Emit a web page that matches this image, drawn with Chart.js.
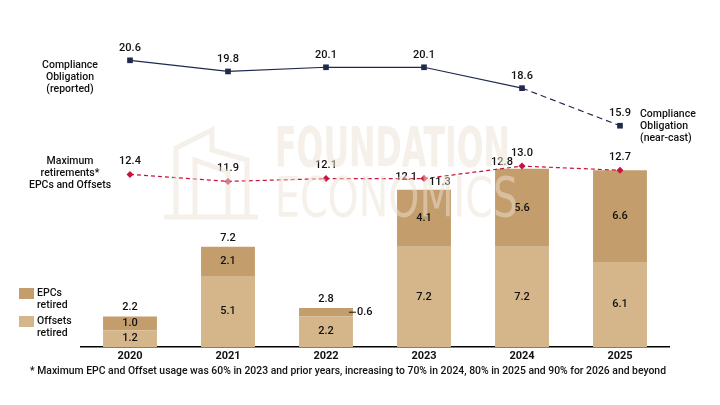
<!DOCTYPE html>
<html>
<head>
<meta charset="utf-8">
<script src="https://cdn.jsdelivr.net/npm/chart.js@4.4.1/dist/chart.umd.min.js"></script>
<style>
  html, body { margin: 0; padding: 0; background: #fff; }
  #wrap { position: relative; width: 720px; height: 405px; }
</style>
</head>
<body>
<div id="wrap"><canvas id="chart" width="720" height="405"></canvas></div>
<script>
var years = ['2020', '2021', '2022', '2023', '2024', '2025'];
var offsetsRetired = [1.2, 5.1, 2.2, 7.2, 7.2, 6.1];
var epcsRetired = [1.0, 2.1, 0.6, 4.1, 5.6, 6.6];
var barTotals = [2.2, 7.2, 2.8, 11.3, 12.8, 12.7];
var complianceObligation = [20.6, 19.8, 20.1, 20.1, 18.6, 15.9];
var maxRetirements = [12.4, 11.9, 12.1, 12.1, 13.0, 12.7];
var footnote = '* Maximum EPC and Offset usage was 60% in 2023 and prior years, increasing to 70% in 2024, 80% in 2025 and 90% for 2026 and beyond';

var FONT = 'Roboto, "DejaVu Sans", sans-serif';
var NAVY = '#1f2a4d';
var RED = '#c8143c';
var LIGHT = '#d4b68a';
var DARK = '#c49d6c';

function txt(ctx, s, x, y, align, weight, size) {
    ctx.font = (weight || '500') + ' ' + (size || 11) + 'px ' + FONT;
    ctx.textAlign = align || 'center';
    ctx.textBaseline = 'middle';
    ctx.fillStyle = '#111';
    ctx.fillText(s, x, y);
}

var labelPlugin = {
    id: 'labels',
    afterDatasetsDraw: function(chart) {
        var ctx = chart.ctx;
        var offMeta = chart.getDatasetMeta(0), epcMeta = chart.getDatasetMeta(1);
        var coMeta = chart.getDatasetMeta(2), mxMeta = chart.getDatasetMeta(3);
        ctx.save();

        years.forEach(function(y, i) {
            var o = offMeta.data[i], e = epcMeta.data[i];
            txt(ctx, offsetsRetired[i].toFixed(1), o.x, (o.y + o.base) / 2);
            var cy = (e.y + e.base) / 2;
            if (i === 2) {
                // segment too thin, label goes to the right
                var right = e.x + e.width / 2;
                ctx.strokeStyle = '#111';
                ctx.lineWidth = 1;
                ctx.beginPath();
                ctx.moveTo(right - 4, cy);
                ctx.lineTo(right + 3, cy);
                ctx.stroke();
                txt(ctx, epcsRetired[i].toFixed(1), right + 4, cy, 'left');
            } else {
                txt(ctx, epcsRetired[i].toFixed(1), e.x, cy);
            }
            // totals
            if (i < 3) txt(ctx, barTotals[i].toFixed(1), e.x, e.y - 9);
            else if (i === 3) txt(ctx, barTotals[i].toFixed(1), e.x + 5, e.y - 7, 'left');
            else if (i === 4) txt(ctx, barTotals[i].toFixed(1), e.x - 20, e.y - 7);
        });

        coMeta.data.forEach(function(p, i) {
            txt(ctx, complianceObligation[i].toFixed(1), p.x, p.y - 12);
        });
        mxMeta.data.forEach(function(p, i) {
            if (i === 3) txt(ctx, maxRetirements[i].toFixed(1), p.x - 7, p.y - 1, 'right');
            else txt(ctx, maxRetirements[i].toFixed(1), p.x, p.y - 13);
        });

        // series names
        var c0 = coMeta.data[0], m0 = mxMeta.data[0], c5 = coMeta.data[5];
        var S = 10.5;
        txt(ctx, 'Compliance', 70, c0.y + 5, 'center', '500', S);
        txt(ctx, 'Obligation', 70, c0.y + 17, 'center', '500', S);
        txt(ctx, '(reported)', 70, c0.y + 29, 'center', '500', S);
        txt(ctx, 'Maximum', 70, m0.y - 13, 'center', '500', S);
        txt(ctx, 'retirements*', 70, m0.y - 1, 'center', '500', S);
        txt(ctx, 'EPCs and Offsets', 70, m0.y + 11, 'center', '500', S);
        txt(ctx, 'Compliance', c5.x + 20, c5.y - 11, 'left', '500', S);
        txt(ctx, 'Obligation', c5.x + 20, c5.y + 1, 'left', '500', S);
        txt(ctx, '(near-cast)', c5.x + 20, c5.y + 13, 'left', '500', S);

        // legend
        ctx.fillStyle = DARK;
        ctx.fillRect(19, 288, 15, 11);
        ctx.fillStyle = LIGHT;
        ctx.fillRect(19, 316, 15, 11);
        txt(ctx, 'EPCs', 37, 293, 'left', '500', S);
        txt(ctx, 'retired', 37, 305, 'left', '500', S);
        txt(ctx, 'Offsets', 37, 321, 'left', '500', S);
        txt(ctx, 'retired', 37, 333, 'left', '500', S);

        txt(ctx, footnote, 30, 371, 'left', '500', 10.4);
        ctx.restore();
    },
    afterDraw: function(chart) {
        // faint watermark over the plot
        var ctx = chart.ctx;
        ctx.save();
        ctx.fillStyle = 'rgba(236,226,212,0.5)';
        ctx.strokeStyle = 'rgba(236,226,212,0.5)';
        ctx.textBaseline = 'alphabetic';
        ctx.textAlign = 'left';
        [['FOUNDATION', 'bold', 166, 235], ['ECONOMICS', 'normal', 216, 243]].forEach(function(w) {
            ctx.font = w[1] + ' 56px "DejaVu Sans Condensed", "DejaVu Sans", sans-serif';
            var m = ctx.measureText(w[0]).width;
            ctx.save();
            ctx.translate(275, w[2]);
            ctx.scale(w[3] / m, 1);
            ctx.fillText(w[0], 0, 0);
            ctx.restore();
        });
        ctx.lineWidth = 5;
        ctx.beginPath();
        ctx.moveTo(176, 215); ctx.lineTo(176, 148); ctx.lineTo(212, 130); ctx.lineTo(212, 150);
        ctx.lineTo(247, 160); ctx.lineTo(247, 215);
        ctx.moveTo(195, 215); ctx.lineTo(195, 160); ctx.lineTo(228, 172); ctx.lineTo(228, 215);
        ctx.moveTo(164, 217); ctx.lineTo(258, 217);
        ctx.stroke();
        ctx.restore();
    }
};

new Chart(document.getElementById('chart'), {
    data: {
        labels: years,
        datasets: [
            { type: 'bar', label: 'Offsets retired', data: offsetsRetired, backgroundColor: LIGHT, stack: 'bars', order: 2 },
            { type: 'bar', label: 'EPCs retired', data: epcsRetired, backgroundColor: DARK, stack: 'bars', order: 2 },
            {
                type: 'line', label: 'Compliance Obligation', data: complianceObligation, stack: 'co', order: 0,
                borderColor: NAVY, borderWidth: 1.2, pointStyle: 'rect', pointRadius: 4,
                pointBackgroundColor: NAVY, pointBorderWidth: 0,
                segment: { borderDash: function(c) { return c.p1DataIndex === 5 ? [6, 4] : undefined; } }
            },
            {
                type: 'line', label: 'Maximum retirements', data: maxRetirements, stack: 'mx', order: 1,
                borderColor: RED, borderWidth: 1.2, borderDash: [4, 3], pointStyle: 'rectRot', pointRadius: 3.5,
                pointBackgroundColor: RED, pointBorderWidth: 0
            }
        ]
    },
    options: {
        responsive: false,
        animation: false,
        devicePixelRatio: 1,
        layout: { padding: { left: 81, right: 51, top: 13, bottom: 38 } },
        plugins: { legend: { display: false }, tooltip: { enabled: false } },
        datasets: { bar: { barPercentage: 0.55, categoryPercentage: 1 } },
        scales: {
            x: {
                stacked: true,
                grid: { display: false, drawTicks: false },
                border: { color: '#000', width: 1.5 },
                ticks: { color: '#111', font: { family: FONT, size: 11, weight: 'bold' }, padding: 3 },
                afterFit: function(s) { s.height = 20; }
            },
            y: { stacked: true, display: false, min: 0, max: 24 }
        }
    },
    plugins: [labelPlugin]
});
</script>
</body>
</html>
